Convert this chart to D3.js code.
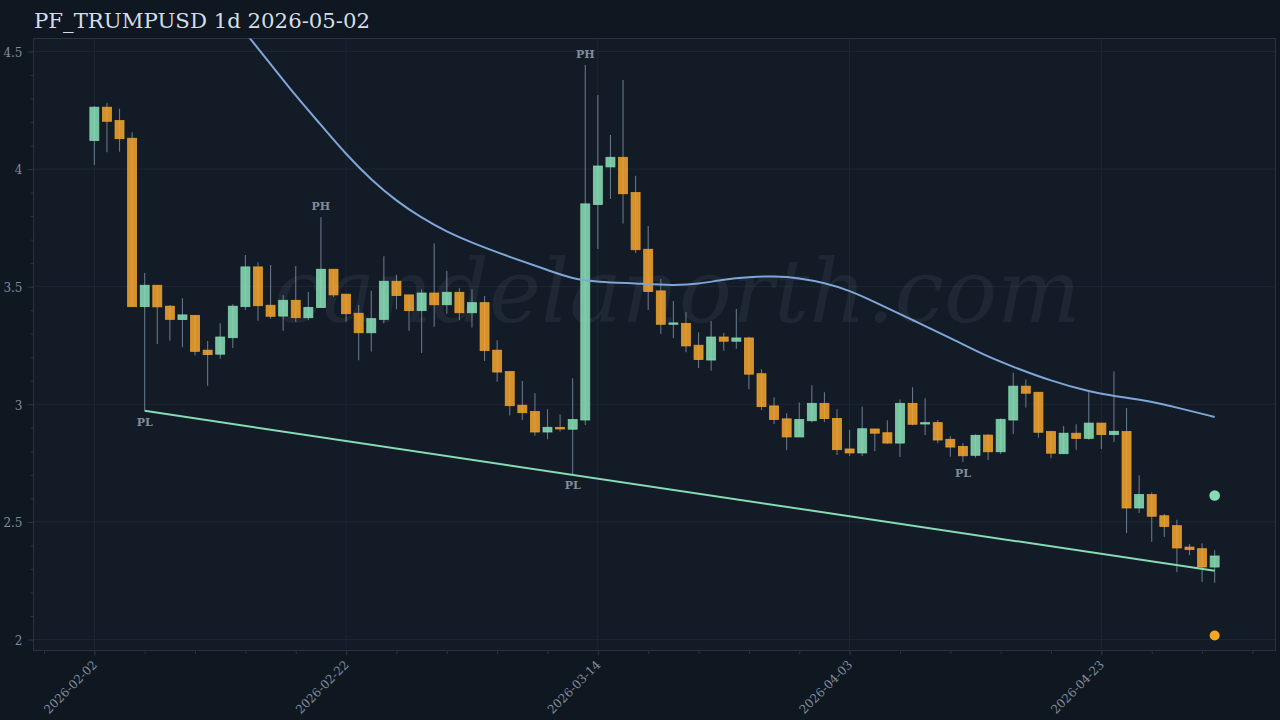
<!DOCTYPE html>
<html>
<head>
<meta charset="utf-8">
<script src="https://d3js.org/d3.v7.min.js"></script>
<style>
  html, body { margin: 0; padding: 0; background: #0f1720; }
  svg { display: block; }
  text { font-family: "DejaVu Serif", serif; }
</style>
</head>
<body>
<svg id="chart" width="1280" height="720"></svg>
<script>
// ── Data ─────────────────────────────────────────────
const titleText = 'PF_TRUMPUSD 1d 2026-05-02';
const watermark = 'candelanorth.com';
const startDate = '2026-02-02';

const opens = [4.121,4.263,4.206,4.131,3.415,3.506,3.417,3.360,3.378,3.230,3.213,3.283,3.415,3.584,3.421,3.375,3.442,3.368,3.411,3.574,3.468,3.387,3.304,3.361,3.523,3.465,3.398,3.473,3.423,3.476,3.389,3.432,3.230,3.139,2.996,2.969,2.882,2.902,2.894,2.933,3.849,4.009,4.050,3.900,3.659,3.482,3.340,3.344,3.251,3.188,3.286,3.268,3.282,3.130,2.993,2.938,2.861,2.930,3.004,2.940,2.810,2.793,2.895,2.879,2.835,3.004,2.916,2.922,2.851,2.821,2.783,2.869,2.798,2.933,3.077,3.051,2.884,2.790,2.877,2.855,2.920,2.871,2.884,2.559,2.616,2.526,2.484,2.393,2.386,2.308];
const highs = [4.268,4.282,4.256,4.156,3.558,3.506,3.422,3.451,3.378,3.269,3.344,3.425,3.635,3.604,3.592,3.465,3.588,3.477,3.795,3.574,3.468,3.422,3.483,3.629,3.551,3.465,3.489,3.683,3.568,3.493,3.489,3.460,3.272,3.139,3.099,3.047,2.979,2.957,3.111,4.442,4.315,4.145,4.379,3.971,3.758,3.533,3.439,3.391,3.306,3.354,3.303,3.405,3.287,3.149,3.030,2.962,3.007,3.081,3.051,2.979,2.891,2.989,2.895,2.932,3.020,3.072,3.026,2.933,2.865,2.834,2.873,2.873,2.940,3.134,3.105,3.051,2.884,2.908,2.915,3.054,2.920,3.140,2.984,2.698,2.626,2.534,2.509,2.406,2.409,2.379];
const lows = [4.017,4.071,4.074,3.415,2.972,3.256,3.270,3.242,3.207,3.079,3.193,3.239,3.401,3.355,3.364,3.313,3.350,3.357,3.411,3.456,3.351,3.187,3.224,3.344,3.404,3.313,3.218,3.330,3.385,3.357,3.326,3.184,3.096,2.952,2.933,2.866,2.851,2.884,2.704,2.912,3.660,3.873,3.768,3.643,3.401,3.299,3.282,3.221,3.154,3.142,3.228,3.236,3.064,2.976,2.916,2.806,2.861,2.922,2.925,2.784,2.780,2.780,2.801,2.832,2.776,2.911,2.869,2.834,2.777,2.755,2.773,2.763,2.789,2.874,2.986,2.858,2.770,2.790,2.807,2.849,2.810,2.840,2.453,2.538,2.415,2.436,2.287,2.359,2.244,2.241];
const closes = [4.263,4.203,4.129,3.415,3.506,3.414,3.361,3.380,3.225,3.211,3.286,3.417,3.584,3.419,3.374,3.442,3.368,3.412,3.574,3.465,3.385,3.304,3.364,3.523,3.462,3.398,3.473,3.423,3.476,3.389,3.432,3.228,3.137,2.994,2.964,2.882,2.902,2.895,2.935,3.852,4.013,4.050,3.895,3.657,3.479,3.340,3.346,3.248,3.190,3.286,3.268,3.282,3.128,2.990,2.935,2.861,2.935,3.004,2.939,2.807,2.793,2.896,2.877,2.835,3.004,2.915,2.922,2.848,2.818,2.781,2.868,2.798,2.936,3.077,3.047,2.881,2.792,2.877,2.855,2.920,2.871,2.885,2.559,2.616,2.524,2.480,2.389,2.382,2.308,2.355];

const emaDays = [10,12,14,16,18,20,22,24,26,28,30,33,36,38,40,43,46,48,50,52,54,56,58,60,62,65,68,71,73,76,79,81,84,86,89,89];
const emaValues = [4.716,4.579,4.447,4.311,4.188,4.062,3.954,3.864,3.792,3.733,3.686,3.626,3.571,3.533,3.520,3.514,3.505,3.511,3.531,3.541,3.545,3.537,3.516,3.484,3.435,3.358,3.282,3.201,3.159,3.099,3.054,3.035,3.012,2.986,2.946,2.946];

const trendDays = [4, 89];
const trendValues = [2.972, 2.292];

const pivotDays = [4, 18, 38, 39, 69];
const pivotTypes = ['PL', 'PH', 'PL', 'PH', 'PL'];

const targetDay = 89;
const targetUp = 2.612;
const targetDown = 2.017;

const yMajorTicks = [2, 2.5, 3, 3.5, 4, 4.5];
const yMinorTicks = d3.range(20, 46).map(d => d / 10);
const xMajorDays = [0, 20, 40, 60, 80];
const xMinorDays = d3.range(-4, 93, 4);

// ── Colors ───────────────────────────────────────────
const BG = '#0f1720';
const PANEL = '#131b26';
const GRID = '#1c2833';
const FRAME = '#263442';
const LABEL = '#808c9b';
const UP = '#86dcb4';
const DOWN = '#f0a22e';
const WICK = '#8294a8';
const EMA = '#7ea6d8';

// ── Layout ───────────────────────────────────────────
const plot = { left: 33.5, right: 1275.5, top: 38.5, bottom: 650.5 };
const svg = d3.select('#chart');
const fmtDate = d3.utcFormat('%Y-%m-%d');
const start = new Date(startDate + 'T00:00:00Z');

const x = d3.scaleUtc()
  .domain([d3.utcHour.offset(start, -4.83 * 24), d3.utcHour.offset(start, 93.86 * 24)])
  .range([plot.left, plot.right]);
const dayX = i => x(d3.utcDay.offset(start, i));
const y = d3.scaleLinear().domain([1.9532, 4.555]).range([plot.bottom, plot.top]);

svg.append('rect').attr('width', 1280).attr('height', 720).attr('fill', BG);
svg.append('rect')
  .attr('x', plot.left).attr('y', plot.top)
  .attr('width', plot.right - plot.left).attr('height', plot.bottom - plot.top)
  .attr('fill', PANEL);

svg.append('defs').append('clipPath').attr('id', 'plot-clip')
  .append('rect')
  .attr('x', plot.left).attr('y', plot.top)
  .attr('width', plot.right - plot.left).attr('height', plot.bottom - plot.top);

svg.append('text')
  .attr('x', 34).attr('y', 28)
  .attr('font-size', 21.25)
  .attr('fill', '#d5dee8')
  .text(titleText);

// ── Grid ─────────────────────────────────────────────
const grid = svg.append('g').attr('stroke', GRID).attr('stroke-width', 1);
grid.selectAll('line.h').data(yMajorTicks).join('line').attr('class', 'h')
  .attr('x1', plot.left).attr('x2', plot.right)
  .attr('y1', d => y(d)).attr('y2', d => y(d));
grid.selectAll('line.v').data(xMajorDays).join('line').attr('class', 'v')
  .attr('y1', plot.top).attr('y2', plot.bottom)
  .attr('x1', d => dayX(d)).attr('x2', d => dayX(d));

// Wasserzeichen
svg.append('text')
  .attr('x', 677).attr('y', 322)
  .attr('text-anchor', 'middle')
  .attr('font-size', 88.3)
  .attr('font-style', 'italic')
  .attr('fill', '#94a3b8')
  .attr('fill-opacity', 0.09)
  .text(watermark);

// ── Axes ─────────────────────────────────────────────
function styleAxis(g) {
  g.selectAll('.domain').remove();
  g.selectAll('line').attr('stroke', FRAME);
  g.selectAll('text').attr('fill', LABEL).attr('font-size', 12)
    .attr('font-family', '"DejaVu Serif", serif');
}

svg.append('g').attr('transform', `translate(${plot.left},0)`)
  .call(d3.axisLeft(y).tickValues(yMinorTicks).tickSize(3).tickFormat(''))
  .call(styleAxis);
const yAxis = svg.append('g').attr('transform', `translate(${plot.left},0)`)
  .call(d3.axisLeft(y).tickValues(yMajorTicks).tickSize(6).tickPadding(5).tickFormat(d3.format('~g')))
  .call(styleAxis);
yAxis.selectAll('text').attr('dy', '0.4em');

svg.append('g').attr('transform', `translate(0,${plot.bottom})`)
  .call(d3.axisBottom(x).tickValues(xMinorDays.map(d => d3.utcDay.offset(start, d))).tickSize(3.5).tickFormat(''))
  .call(styleAxis);
const xAxis = svg.append('g').attr('transform', `translate(0,${plot.bottom})`)
  .call(d3.axisBottom(x).tickValues(xMajorDays.map(d => d3.utcDay.offset(start, d))).tickSize(5).tickFormat(fmtDate))
  .call(styleAxis);
xAxis.selectAll('text')
  .attr('text-anchor', 'end')
  .attr('dy', 0)
  .attr('y', 0)
  .attr('transform', 'translate(3,15) rotate(-45)');

svg.append('rect')
  .attr('x', plot.left).attr('y', plot.top)
  .attr('width', plot.right - plot.left).attr('height', plot.bottom - plot.top)
  .attr('fill', 'none').attr('stroke', FRAME);

// ── Candles ──────────────────────────────────────────
const days = opens.map((_, i) => i);
const bodyW = 9;
const chart = svg.append('g').attr('clip-path', 'url(#plot-clip)');

chart.append('g').selectAll('line').data(days).join('line')
  .attr('x1', i => dayX(i)).attr('x2', i => dayX(i))
  .attr('y1', i => y(highs[i])).attr('y2', i => y(lows[i]))
  .attr('stroke', WICK).attr('stroke-width', 1.1).attr('stroke-opacity', 0.75);

chart.append('g').selectAll('rect').data(days).join('rect')
  .attr('x', i => dayX(i) - bodyW / 2)
  .attr('width', bodyW)
  .attr('y', i => y(Math.max(opens[i], closes[i])))
  .attr('height', i => Math.abs(y(opens[i]) - y(closes[i])))
  .attr('fill', i => closes[i] >= opens[i] ? UP : DOWN)
  .attr('fill-opacity', 0.88)
  .attr('stroke', i => closes[i] >= opens[i] ? UP : DOWN)
  .attr('stroke-opacity', 0.9)
  .attr('stroke-width', 0.8);

// ── Lines ────────────────────────────────────────────
const lineGen = d3.line()
  .x((_, k) => dayX(emaDays[k]))
  .y(d => y(d))
  .curve(d3.curveBasis);
chart.append('path')
  .attr('d', lineGen(emaValues))
  .attr('fill', 'none').attr('stroke', EMA).attr('stroke-width', 2);

chart.append('path')
  .attr('d', d3.line().x((_, k) => dayX(trendDays[k])).y(d => y(d))(trendValues))
  .attr('fill', 'none').attr('stroke', UP).attr('stroke-width', 2);

// ── Pivots ───────────────────────────────────────────
chart.append('g').selectAll('text').data(pivotDays).join('text')
  .attr('x', d => dayX(d))
  .attr('y', (d, k) => pivotTypes[k] === 'PH' ? y(highs[d]) - 7.5 : y(lows[d]) + 15)
  .attr('text-anchor', 'middle')
  .attr('font-size', 11)
  .attr('font-weight', 'bold')
  .attr('fill', LABEL)
  .text((d, k) => pivotTypes[k]);

// Zielpunkte am Ende
chart.append('circle').attr('cx', dayX(targetDay)).attr('cy', y(targetUp))
  .attr('r', 5.3).attr('fill', UP);
chart.append('circle').attr('cx', dayX(targetDay)).attr('cy', y(targetDown))
  .attr('r', 5).attr('fill', '#f5a524');
</script>
</body>
</html>
